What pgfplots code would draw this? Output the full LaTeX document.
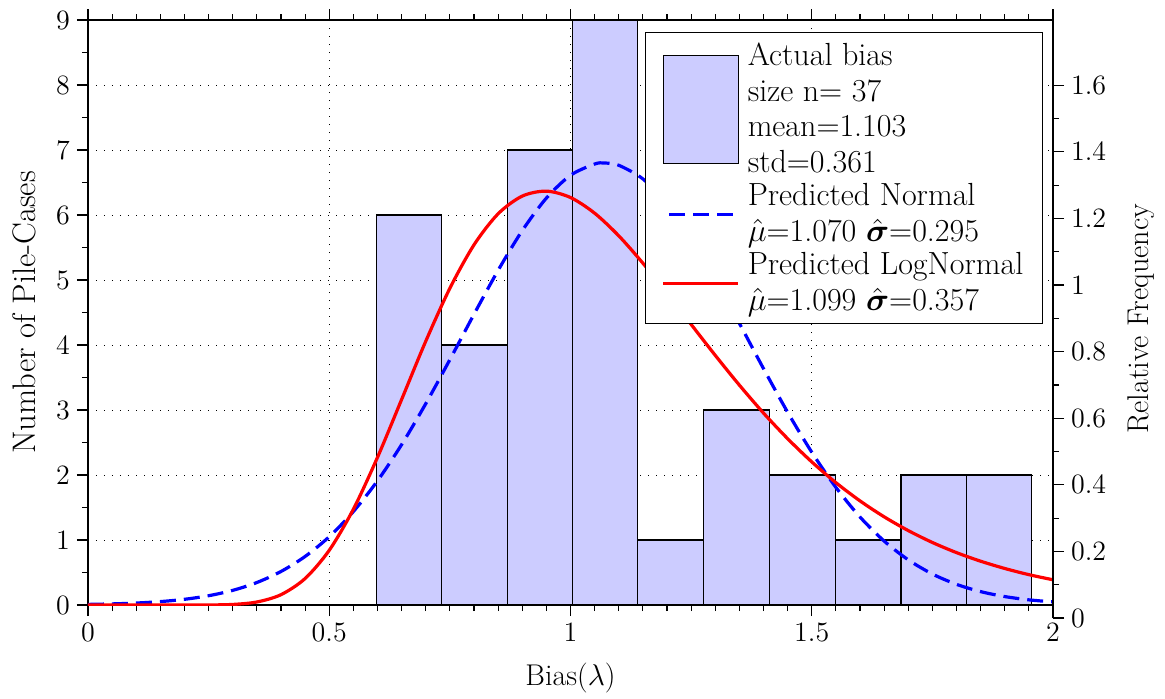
\RequirePackage{fix-cm}
\documentclass[border=0pt]{standalone}
\usepackage{amsmath}
\usepackage{pgfplots}
\pgfplotsset{compat=1.18}
\begin{document}
\begin{tikzpicture}
\pgfplotsset{
  base/.style={
    scale only axis, width=482.5pt, xmin=0, xmax=2,
    tick align=outside, major tick length=5.5pt, minor tick length=3pt,
    tick style={black, line width=0.6pt},
    axis line style={black, line width=0.7pt},
    tick label style={font=\fontsize{14}{16}\selectfont},
    label style={font=\fontsize{15}{18}\selectfont},
  }
}
\begin{axis}[base, height=292.5pt, ymin=0, ymax=9,
  xtick={0,0.5,1,1.5,2}, minor x tick num=9,
  ytick={0,1,2,3,4,5,6,7,8,9}, minor y tick num=1,
  ytick pos=left,
  grid=major, grid style={black, line width=0.5pt, dash pattern=on 0.6pt off 3.4pt},
  xlabel={Bias($\lambda$)}, ylabel={Number of Pile-Cases},
  xlabel style={yshift=-4pt}, ylabel style={yshift=3pt, font=\fontsize{16.3}{19}\selectfont},
  legend style={at={(0.9896,0.9795)}, anchor=north east, draw=black, line width=0.7pt,
    fill=white, inner xsep=8pt, inner ysep=3.5pt, row sep=1pt, column sep=2.5pt,
    cells={anchor=west},
    nodes={inner sep=1.5pt, align=left, font=\fontsize{16}{17.9}\selectfont}},
]
\addplot[ybar interval, fill=blue!20, draw=black, line width=0.6pt,
  legend image code/.code={\draw[fill=blue!20, draw=black, line width=0.6pt] (0pt,-27pt) rectangle (37.5pt,27pt);}]
  coordinates {(0.5975,6) (0.732,4) (0.869,7) (1.004,9) (1.139,1) (1.276,3) (1.413,2) (1.550,1) (1.685,2) (1.820,2) (1.956,2)};
\addlegendentry{Actual bias\\size n= 37\\mean=1.103\\std=0.361}
\addplot[blue, line width=1.6pt, dash pattern=on 8pt off 4pt, smooth, tension=0.5,
  legend image code/.code={\draw[blue, line width=1.6pt, dash pattern=on 8pt off 4pt, dash phase=-3pt] (0pt,0pt) -- (37.5pt,0pt);}]
  coordinates {(0,0.0095) (0.05,0.0172) (0.1,0.0305) (0.15,0.0525) (0.2,0.0879) (0.25,0.1429) (0.3,0.2254) (0.35,0.346) (0.4,0.516) (0.45,0.747) (0.5,1.051) (0.55,1.438) (0.6,1.911) (0.65,2.468) (0.7,3.097) (0.75,3.775) (0.8,4.473) (0.85,5.149) (0.9,5.760) (0.95,6.260) (1.0,6.611) (1.05,6.784) (1.07,6.80) (1.1,6.765) (1.15,6.555) (1.2,6.171) (1.25,5.645) (1.3,5.018) (1.35,4.334) (1.4,3.637) (1.45,2.966) (1.5,2.351) (1.55,1.810) (1.6,1.354) (1.65,0.984) (1.7,0.695) (1.75,0.477) (1.8,0.318) (1.85,0.206) (1.9,0.130) (1.95,0.0795) (2.0,0.0473)};
\addlegendentry{Predicted Normal\\$\hat{\mu}$=1.070 $\hat{\boldsymbol{\sigma}}$=0.295}
\addplot[red, line width=1.6pt, smooth, tension=0.5,
  legend image code/.code={\draw[red, line width=1.6pt] (0pt,0pt) -- (37.5pt,0pt);}]
  coordinates {(0,0) (0.1,0) (0.2,0.0001) (0.25,0.0009) (0.3,0.0089) (0.35,0.0464) (0.4,0.159) (0.45,0.408) (0.5,0.842) (0.55,1.474) (0.6,2.272) (0.65,3.162) (0.7,4.058) (0.75,4.873) (0.8,5.541) (0.85,6.019) (0.9,6.291) (0.95,6.367) (1.0,6.269) (1.05,6.028) (1.1,5.680) (1.15,5.259) (1.2,4.797) (1.25,4.317) (1.3,3.841) (1.35,3.383) (1.4,2.953) (1.45,2.559) (1.5,2.202) (1.55,1.883) (1.6,1.602) (1.65,1.357) (1.7,1.145) (1.75,0.962) (1.8,0.806) (1.85,0.674) (1.9,0.562) (1.95,0.467) (2.0,0.388)};
\addlegendentry{Predicted LogNormal\\$\hat{\mu}$=1.099 $\hat{\boldsymbol{\sigma}}$=0.357}
\end{axis}
\begin{axis}[base, at={(0pt,-6.5pt)}, height=299pt, ymin=0, ymax=1.796,
  hide x axis, axis y line*=right,
  ytick={0,0.2,0.4,0.6,0.8,1,1.2,1.4,1.6}, minor y tick num=1,
  ylabel={Relative Frequency}, ylabel style={yshift=-4pt},
]
\addplot[draw=none] coordinates {(0,0) (2,1)};
\end{axis}
\pgfresetboundingbox
\path[use as bounding box] (-44pt,-46.5pt) rectangle (538.5pt,302.5pt);
\end{tikzpicture}
\end{document}
